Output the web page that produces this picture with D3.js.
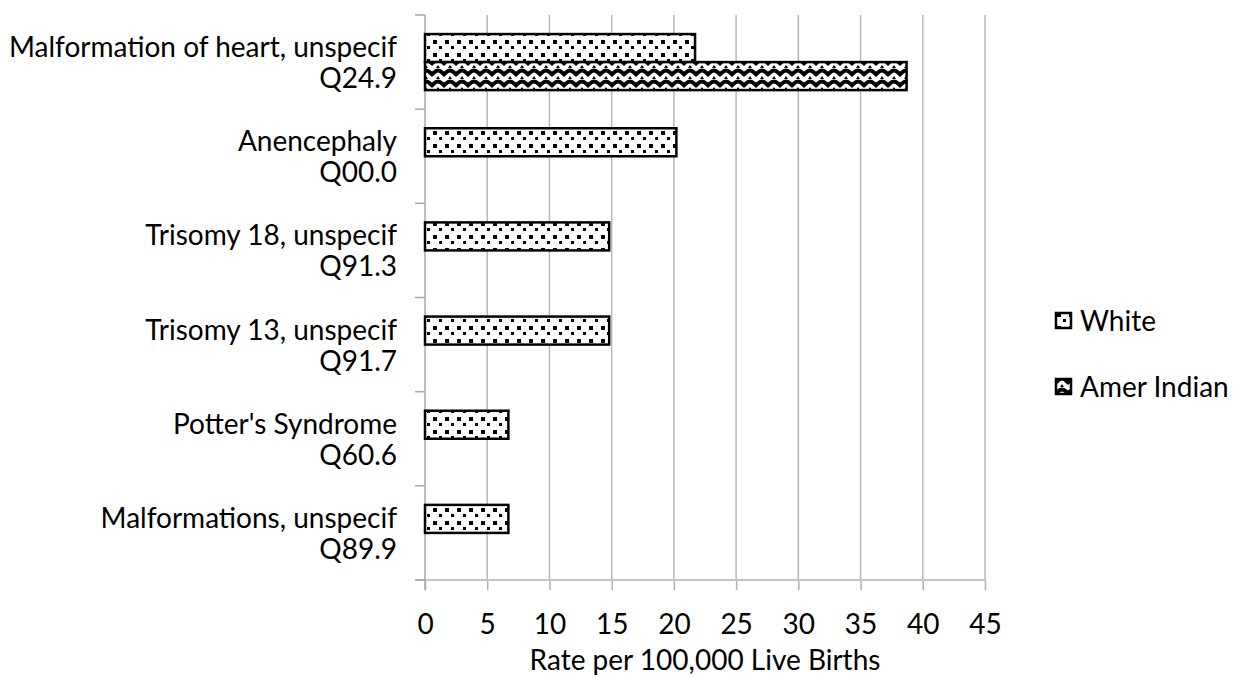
<!DOCTYPE html>
<html>
<head>
<meta charset="utf-8">
<script src="https://cdn.jsdelivr.net/npm/d3@7"></script>
<style>
  html, body { margin: 0; padding: 0; background: #fff; }
  svg { display: block; }
  text { font-family: Lato, "Open Sans", sans-serif; fill: #000; }
</style>
</head>
<body>
<svg id="chart" width="1236" height="678"></svg>
<script>
// ---- data ----
const causeNames = ["Malformation of heart, unspecif", "Anencephaly", "Trisomy 18, unspecif",
                    "Trisomy 13, unspecif", "Potter's Syndrome", "Malformations, unspecif"];
const causeCodes = ["Q24.9", "Q00.0", "Q91.3", "Q91.7", "Q60.6", "Q89.9"];
const seriesNames = ["White", "Amer Indian"];
const whiteValues = [21.7, 20.2, 14.8, 14.8, 6.7, 6.7];
const amerIndianValues = [38.7, null, null, null, null, null];
const xTicks = [0, 5, 10, 15, 20, 25, 30, 35, 40, 45];
const xTitle = "Rate per 100,000 Live Births";

// ---- layout ----
const svg = d3.select("#chart");
const plotLeft = 425, plotRight = 985, plotTop = 15, plotBottom = 580;
const fontSize = 28;

const defs = svg.append("defs");
// dotted pattern (White)
const pDots = defs.append("pattern").attr("id", "pDots")
  .attr("patternUnits", "userSpaceOnUse").attr("width", 12).attr("height", 13)
  .attr("x", 0).attr("y", 0);
pDots.append("rect").attr("width", 12).attr("height", 13).attr("fill", "#fff");
pDots.append("rect").attr("x", 1).attr("y", 1).attr("width", 4).attr("height", 4).attr("fill", "#000")
  .attr("shape-rendering", "crispEdges");
pDots.append("rect").attr("x", 7).attr("y", 7).attr("width", 3).attr("height", 3).attr("fill", "#000")
  .attr("shape-rendering", "crispEdges");
// wave pattern (Amer Indian)
const pWave = defs.append("pattern").attr("id", "pWave")
  .attr("patternUnits", "userSpaceOnUse").attr("width", 12).attr("height", 11).attr("y", 2);
pWave.append("rect").attr("width", 12).attr("height", 11).attr("fill", "#fff");
pWave.append("path").attr("d", "M-3,8 C0,8 2,2.5 6,2.5 C10,2.5 12,8 15,8")
  .attr("fill", "none").attr("stroke", "#000").attr("stroke-width", 4);
pWave.append("path").attr("d", "M4,11 L6,8 L8,11 Z").attr("fill", "#000");
const fills = { "White": "url(#pDots)", "Amer Indian": "url(#pWave)" };

const x = d3.scaleLinear().domain([0, 45]).range([plotLeft, plotRight]);
const y = d3.scaleBand().domain(causeNames).range([plotTop, plotBottom])
  .paddingInner(0.405).paddingOuter(0.2025);
const ySub = d3.scaleBand().domain(seriesNames).range([0, y.bandwidth()]);

// gridlines
svg.append("g").selectAll("line").data(xTicks.filter(t => t > 0)).join("line")
  .attr("x1", d => x(d)).attr("x2", d => x(d))
  .attr("y1", plotTop).attr("y2", plotBottom)
  .attr("stroke", "#b8b8b8").attr("stroke-width", 1.5);

// bottom axis
const xAxis = svg.append("g").attr("transform", `translate(0,${plotBottom})`)
  .call(d3.axisBottom(x).tickValues(xTicks).tickSize(10).tickSizeOuter(0));
xAxis.select(".domain").remove();
xAxis.selectAll(".tick line").attr("stroke", "#b0b0b0").attr("stroke-width", 1.5);
xAxis.selectAll(".tick text").attr("y", 54).attr("dy", 0)
  .style("font-size", fontSize + "px").style("font-family", "Lato, sans-serif").attr("fill", "#000");
svg.append("line").attr("x1", plotLeft - 10).attr("x2", plotRight).attr("y1", plotBottom).attr("y2", plotBottom)
  .attr("stroke", "#c4c4c4").attr("stroke-width", 2);

// left axis
svg.append("line").attr("x1", plotLeft).attr("x2", plotLeft).attr("y1", plotTop).attr("y2", plotBottom + 10)
  .attr("stroke", "#a8a8a8").attr("stroke-width", 1.5);
const bounds = causeNames.map(c => y(c) - y.step() * y.paddingInner() / 2);
bounds.push(plotBottom);
svg.append("g").selectAll("line").data(bounds).join("line")
  .attr("x1", plotLeft - 10).attr("x2", plotLeft).attr("y1", d => d).attr("y2", d => d)
  .attr("stroke", "#a8a8a8").attr("stroke-width", 1.5);

// bars
const rows = causeNames.map((c, i) => ({ cause: c, vals: [
  { s: "White", v: whiteValues[i] }, { s: "Amer Indian", v: amerIndianValues[i] }] }));
const g = svg.append("g");
rows.forEach(r => {
  r.vals.filter(d => d.v != null).forEach(d => {
    g.append("rect")
      .attr("x", x(0)).attr("y", y(r.cause) + ySub(d.s))
      .attr("width", x(d.v) - x(0)).attr("height", ySub.bandwidth())
      .attr("fill", fills[d.s]).attr("stroke", "#000").attr("stroke-width", 2.5);
  });
});

// category labels
const lab = svg.append("g");
causeNames.forEach((c, i) => {
  const cy = y(c) + y.bandwidth() / 2;
  const t = lab.append("text").attr("text-anchor", "end").style("font-size", fontSize + "px");
  t.append("tspan").attr("x", 397).attr("y", cy - 5).text(c);
  t.append("tspan").attr("x", 397).attr("y", cy + 26).text(causeCodes[i]);
});

// axis title
svg.append("text").attr("x", (plotLeft + plotRight) / 2).attr("y", 670).attr("text-anchor", "middle")
  .style("font-size", fontSize + "px").text(xTitle);

// legend
const legY = [321, 387];
seriesNames.forEach((s, i) => {
  svg.append("rect").attr("x", 1056).attr("y", legY[i] - 8).attr("width", 15).attr("height", 15)
    .attr("fill", fills[s]).attr("stroke", "#000").attr("stroke-width", 2.5);
  svg.append("text").attr("x", 1080).attr("y", legY[i] + 10).style("font-size", fontSize + "px").text(s);
});
</script>
</body>
</html>
